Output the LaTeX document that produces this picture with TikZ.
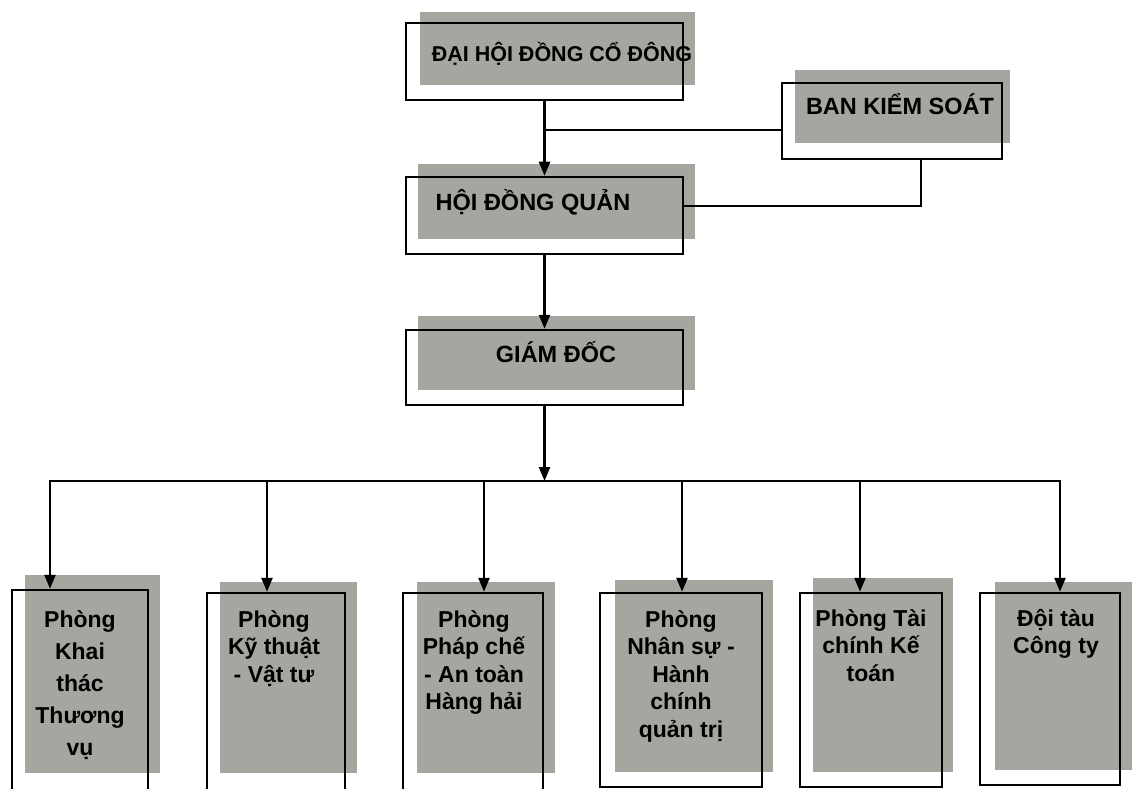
\documentclass[tikz,border=0pt]{standalone}
\usepackage{fontspec}
\setmainfont{Liberation Sans}
\usetikzlibrary{arrows.meta}
\definecolor{boxgray}{RGB}{163,167,160}
\begin{document}
\begin{tikzpicture}[x=1pt,y=-1pt,
  shadebox/.style={fill=boxgray},
  frame/.style={draw, line width=2.5pt, inner sep=0pt},
  conn/.style={line width=2.5pt, line cap=rect},
  arr/.style={conn, -{Triangle[length=14pt,width=11pt]}},
  big/.style={font=\bfseries\fontsize{23.5}{27}\selectfont, inner sep=0pt, anchor=base},
  small/.style={font=\bfseries\fontsize{23}{27.5}\selectfont, inner sep=0pt, anchor=north, align=center}]
\useasboundingbox (0,0) rectangle (1133,789);
\clip (0,0) rectangle (1133,789);
% gray shaded blocks
\fill[shadebox] (420,12) rectangle (695,85);
\fill[shadebox] (795,70) rectangle (1010,143);
\fill[shadebox] (418,164) rectangle (695,239);
\fill[shadebox] (418,316) rectangle (695,390);
\fill[shadebox] (25,575) rectangle (160,773);
\fill[shadebox] (220,582) rectangle (357,773);
\fill[shadebox] (417,582) rectangle (555,773);
\fill[shadebox] (615,580) rectangle (773,772);
\fill[shadebox] (813,578) rectangle (953,772);
\fill[shadebox] (995,582) rectangle (1132,770);
% frames
\node[frame, minimum width=277pt, minimum height=77pt] (f1) at (544.5,61.5) {};
\node[frame, minimum width=220pt, minimum height=76pt] (f2) at (892,121) {};
\node[frame, minimum width=277pt, minimum height=77pt] (f3) at (544.5,215.5) {};
\node[frame, minimum width=277pt, minimum height=75pt] (f4) at (544.5,367.5) {};
\node[frame, minimum width=136pt, minimum height=205pt] (f5) at (80,692.5) {};
\node[frame, minimum width=138pt, minimum height=202pt] (f6) at (276,694) {};
\node[frame, minimum width=140pt, minimum height=202pt] (f7) at (473,694) {};
\node[frame, minimum width=162pt, minimum height=194pt] (f8) at (681,690) {};
\node[frame, minimum width=142pt, minimum height=194pt] (f9) at (871,690) {};
\node[frame, minimum width=140pt, minimum height=192pt] (f10) at (1050,689) {};
% texts
\node[big, font=\bfseries\fontsize{21.5}{25}\selectfont] (t1) at (562,62) {ĐẠI HỘI ĐỒNG CỔ ĐÔNG};
\node[big] (t2) at (900,115) {BAN KIỂM SOÁT};
\node[big] (t3) at (533,210) {HỘI ĐỒNG QUẢN};
\node[big] (t4) at (556,362) {GIÁM ĐỐC};
\node[small, font=\bfseries\fontsize{23}{32}\selectfont] (t5) at (80,610) {Phòng\\Khai\\thác\\Thương\\vụ};
\node[small] (t6) at (274,610) {Phòng\\Kỹ thuật\\- Vật tư};
\node[small] (t7) at (474,610) {Phòng\\Pháp chế\\- An toàn\\Hàng hải};
\node[small] (t8) at (681,610) {Phòng\\Nhân sự -\\Hành\\chính\\quản trị};
\node[small] (t9) at (871,609) {Phòng Tài\\chính Kế\\toán};
\node[small] (t10) at (1056,609) {Đội tàu\\Công ty};
% connectors
\draw[arr] (f1.south) -- (f3.north);
\coordinate (j1) at (544.5,130);
\draw[conn] (j1) -- (j1 -| f2.west);
\coordinate (k1) at (921,206);
\draw[conn] (k1 |- f2.south) -- (k1) -- (k1 -| f3.east);
\draw[arr] (f3.south) -- (f4.north);
\coordinate (bus) at (544.5,481);
\draw[arr] (f4.south) -- (bus);
\coordinate (c1) at (50,481);
\coordinate (c2) at (267,481);
\coordinate (c3) at (484,481);
\coordinate (c4) at (682,481);
\coordinate (c5) at (860,481);
\coordinate (c6) at (1060,481);
\draw[conn] (c1) -- (c6);
\draw[arr] (c1) -- (c1 |- f5.north);
\draw[arr] (c2) -- (c2 |- f6.north);
\draw[arr] (c3) -- (c3 |- f7.north);
\draw[arr] (c4) -- (c4 |- f8.north);
\draw[arr] (c5) -- (c5 |- f9.north);
\draw[arr] (c6) -- (c6 |- f10.north);
\end{tikzpicture}
\end{document}
